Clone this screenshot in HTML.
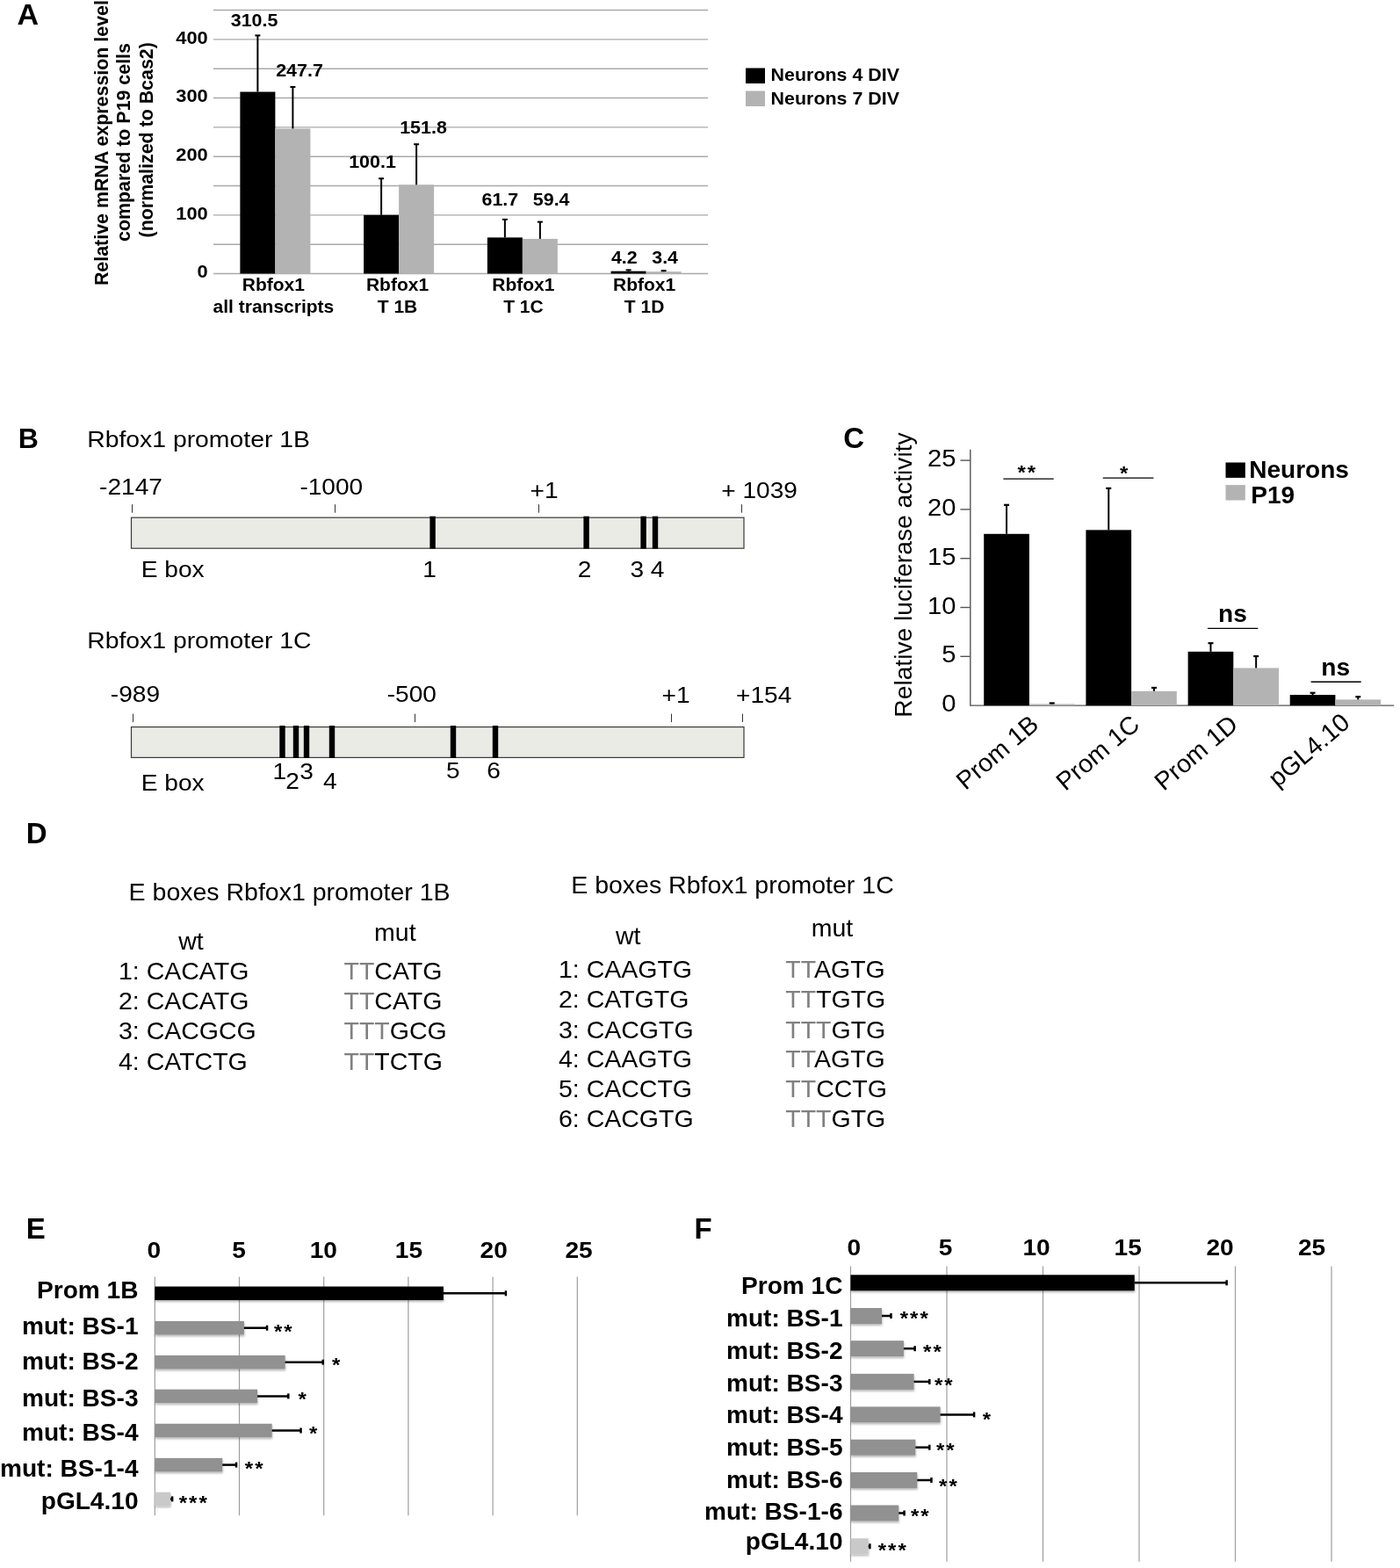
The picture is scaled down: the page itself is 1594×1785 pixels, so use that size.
<!DOCTYPE html>
<html><head><meta charset="utf-8"><title>Figure</title>
<style>
html,body{margin:0;padding:0;background:#fff;width:1594px;height:1785px;overflow:hidden}
svg{display:block}
text{font-family:"Liberation Sans", Arial, Helvetica, sans-serif}
</style></head><body>
<svg width="1594" height="1785" viewBox="0 0 1594 1785">
<defs><filter id="sh" x="-5%" y="-30%" width="115%" height="190%"><feDropShadow dx="0.5" dy="2" stdDeviation="1.3" flood-color="#000" flood-opacity="0.28"/></filter></defs>
<rect width="1594" height="1785" fill="#fff"/>
<text transform="translate(19.4,28)" font-size="34" font-weight="bold" text-anchor="start" fill="#000">A</text>
<line x1="243" y1="311.5" x2="806" y2="311.5" stroke="#a9a9a9" stroke-width="1.4"/>
<line x1="243" y1="278.18" x2="806" y2="278.18" stroke="#a9a9a9" stroke-width="1.4"/>
<line x1="243" y1="244.85" x2="806" y2="244.85" stroke="#a9a9a9" stroke-width="1.4"/>
<line x1="243" y1="211.53" x2="806" y2="211.53" stroke="#a9a9a9" stroke-width="1.4"/>
<line x1="243" y1="178.2" x2="806" y2="178.2" stroke="#a9a9a9" stroke-width="1.4"/>
<line x1="243" y1="144.88" x2="806" y2="144.88" stroke="#a9a9a9" stroke-width="1.4"/>
<line x1="243" y1="111.55" x2="806" y2="111.55" stroke="#a9a9a9" stroke-width="1.4"/>
<line x1="243" y1="78.22" x2="806" y2="78.22" stroke="#a9a9a9" stroke-width="1.4"/>
<line x1="243" y1="44.9" x2="806" y2="44.9" stroke="#a9a9a9" stroke-width="1.4"/>
<line x1="243" y1="11.57" x2="806" y2="11.57" stroke="#a9a9a9" stroke-width="1.4"/>
<text transform="translate(236.7,316.4) scale(1.04,1)" font-size="21" font-weight="bold" text-anchor="end" fill="#000">0</text>
<text transform="translate(236.7,249.75) scale(1.04,1)" font-size="21" font-weight="bold" text-anchor="end" fill="#000">100</text>
<text transform="translate(236.7,183.1) scale(1.04,1)" font-size="21" font-weight="bold" text-anchor="end" fill="#000">200</text>
<text transform="translate(236.7,116.45) scale(1.04,1)" font-size="21" font-weight="bold" text-anchor="end" fill="#000">300</text>
<text transform="translate(236.7,49.8) scale(1.04,1)" font-size="21" font-weight="bold" text-anchor="end" fill="#000">400</text>
<text transform="translate(122.7,162.6) rotate(-90)" font-size="21.4" font-weight="bold" text-anchor="middle">Relative mRNA expression level</text>
<text transform="translate(148.3,162) rotate(-90)" font-size="21.4" font-weight="bold" text-anchor="middle">compared to P19 cells</text>
<text transform="translate(174,159.3) rotate(-90)" font-size="21.4" font-weight="bold" text-anchor="middle">(normalized to Bcas2)</text>
<rect x="273.38" y="104.55" width="40" height="206.95" fill="#000"/>
<rect x="313.38" y="146.41" width="40" height="165.09" fill="#b3b3b3"/>
<line x1="293.38" y1="39.9" x2="293.38" y2="104.55" stroke="#000" stroke-width="2"/>
<line x1="290.38" y1="40.4" x2="296.38" y2="40.4" stroke="#000" stroke-width="2"/>
<line x1="333.38" y1="98.49" x2="333.38" y2="146.41" stroke="#000" stroke-width="2"/>
<line x1="330.38" y1="98.99" x2="336.38" y2="98.99" stroke="#000" stroke-width="2"/>
<rect x="414.12" y="244.78" width="40" height="66.72" fill="#000"/>
<rect x="454.12" y="210.33" width="40" height="101.17" fill="#b3b3b3"/>
<line x1="434.12" y1="202.73" x2="434.12" y2="244.78" stroke="#000" stroke-width="2"/>
<line x1="431.12" y1="203.23" x2="437.12" y2="203.23" stroke="#000" stroke-width="2"/>
<line x1="474.12" y1="163.74" x2="474.12" y2="210.33" stroke="#000" stroke-width="2"/>
<line x1="471.12" y1="164.24" x2="477.12" y2="164.24" stroke="#000" stroke-width="2"/>
<rect x="554.88" y="270.38" width="40" height="41.12" fill="#000"/>
<rect x="594.88" y="271.91" width="40" height="39.59" fill="#b3b3b3"/>
<line x1="574.88" y1="249.32" x2="574.88" y2="270.38" stroke="#000" stroke-width="2"/>
<line x1="571.88" y1="249.82" x2="577.88" y2="249.82" stroke="#000" stroke-width="2"/>
<line x1="614.88" y1="252.11" x2="614.88" y2="271.91" stroke="#000" stroke-width="2"/>
<line x1="611.88" y1="252.61" x2="617.88" y2="252.61" stroke="#000" stroke-width="2"/>
<rect x="695.62" y="308.7" width="40" height="2.8" fill="#000"/>
<rect x="735.62" y="309.23" width="40" height="2.27" fill="#b3b3b3"/>
<line x1="715.62" y1="306.9" x2="715.62" y2="308.7" stroke="#000" stroke-width="2"/>
<line x1="712.62" y1="307.4" x2="718.62" y2="307.4" stroke="#000" stroke-width="2"/>
<line x1="755.62" y1="307.7" x2="755.62" y2="309.23" stroke="#000" stroke-width="2"/>
<line x1="752.62" y1="308.2" x2="758.62" y2="308.2" stroke="#000" stroke-width="2"/>
<text transform="translate(289.6,29.7) scale(1.02,1)" font-size="21" font-weight="bold" text-anchor="middle" fill="#000">310.5</text>
<text transform="translate(341,86.6) scale(1.02,1)" font-size="21" font-weight="bold" text-anchor="middle" fill="#000">247.7</text>
<text transform="translate(424,190.6) scale(1.02,1)" font-size="21" font-weight="bold" text-anchor="middle" fill="#000">100.1</text>
<text transform="translate(482,151.9) scale(1.02,1)" font-size="21" font-weight="bold" text-anchor="middle" fill="#000">151.8</text>
<text transform="translate(569.4,233.8) scale(1.02,1)" font-size="21" font-weight="bold" text-anchor="middle" fill="#000">61.7</text>
<text transform="translate(627.7,233.8) scale(1.02,1)" font-size="21" font-weight="bold" text-anchor="middle" fill="#000">59.4</text>
<text transform="translate(710.8,299.8) scale(1.02,1)" font-size="21" font-weight="bold" text-anchor="middle" fill="#000">4.2</text>
<text transform="translate(757.1,299.8) scale(1.02,1)" font-size="21" font-weight="bold" text-anchor="middle" fill="#000">3.4</text>
<text transform="translate(311.4,331)" font-size="21" font-weight="bold" text-anchor="middle" fill="#000">Rbfox1</text>
<text transform="translate(311.4,356.4)" font-size="21" font-weight="bold" text-anchor="middle" fill="#000">all transcripts</text>
<text transform="translate(452.5,331)" font-size="21" font-weight="bold" text-anchor="middle" fill="#000">Rbfox1</text>
<text transform="translate(452.5,356.4)" font-size="21" font-weight="bold" text-anchor="middle" fill="#000">T 1B</text>
<text transform="translate(595.9,331)" font-size="21" font-weight="bold" text-anchor="middle" fill="#000">Rbfox1</text>
<text transform="translate(595.9,356.4)" font-size="21" font-weight="bold" text-anchor="middle" fill="#000">T 1C</text>
<text transform="translate(733.6,331)" font-size="21" font-weight="bold" text-anchor="middle" fill="#000">Rbfox1</text>
<text transform="translate(733.6,356.4)" font-size="21" font-weight="bold" text-anchor="middle" fill="#000">T 1D</text>
<rect x="849" y="77.5" width="22" height="17.5" fill="#000"/>
<rect x="849" y="103.5" width="22" height="17.5" fill="#b3b3b3"/>
<text transform="translate(877.6,92.3) scale(1.02,1)" font-size="21" font-weight="bold" text-anchor="start" fill="#000">Neurons 4 DIV</text>
<text transform="translate(877.6,118.6) scale(1.02,1)" font-size="21" font-weight="bold" text-anchor="start" fill="#000">Neurons 7 DIV</text>
<text transform="translate(20.8,509.6)" font-size="32" font-weight="bold" text-anchor="start" fill="#000">B</text>
<text transform="translate(99.2,509.1) scale(1.07,1)" font-size="26.5" text-anchor="start" fill="#000">Rbfox1 promoter 1B</text>
<line x1="150.5" y1="574.2" x2="150.5" y2="583.7" stroke="#333" stroke-width="1"/>
<text transform="translate(149,563.4) scale(1.06,1)" font-size="26.5" text-anchor="middle" fill="#000">-2147</text>
<line x1="381.5" y1="574.2" x2="381.5" y2="583.7" stroke="#333" stroke-width="1"/>
<text transform="translate(377.3,563.4) scale(1.06,1)" font-size="26.5" text-anchor="middle" fill="#000">-1000</text>
<line x1="613.5" y1="574.2" x2="613.5" y2="583.7" stroke="#333" stroke-width="1"/>
<text transform="translate(619.6,566.7) scale(1.06,1)" font-size="26.5" text-anchor="middle" fill="#000">+1</text>
<line x1="844.5" y1="574.2" x2="844.5" y2="583.7" stroke="#333" stroke-width="1"/>
<text transform="translate(864.6,566.7) scale(1.06,1)" font-size="26.5" text-anchor="middle" fill="#000">+ 1039</text>
<rect x="149.5" y="589.2" width="697.5" height="35" fill="#ebebe6" stroke="#3a3a3a" stroke-width="1.2"/>
<rect x="489.4" y="587.7" width="6.4" height="37" fill="#000"/>
<rect x="664.4" y="587.7" width="6.4" height="37" fill="#000"/>
<rect x="729.4" y="587.7" width="6.4" height="37" fill="#000"/>
<rect x="742.8" y="587.7" width="6.4" height="37" fill="#000"/>
<text transform="translate(489,657) scale(1.06,1)" font-size="26.5" text-anchor="middle" fill="#000">1</text>
<text transform="translate(665.6,657) scale(1.06,1)" font-size="26.5" text-anchor="middle" fill="#000">2</text>
<text transform="translate(725.2,657) scale(1.06,1)" font-size="26.5" text-anchor="middle" fill="#000">3</text>
<text transform="translate(748.6,657) scale(1.06,1)" font-size="26.5" text-anchor="middle" fill="#000">4</text>
<text transform="translate(160.8,656.7) scale(1.06,1)" font-size="26.5" text-anchor="start" fill="#000">E box</text>
<text transform="translate(99.2,738.1) scale(1.07,1)" font-size="26.5" text-anchor="start" fill="#000">Rbfox1 promoter 1C</text>
<line x1="151.5" y1="812.6" x2="151.5" y2="822.1" stroke="#333" stroke-width="1"/>
<text transform="translate(153.9,799) scale(1.06,1)" font-size="26.5" text-anchor="middle" fill="#000">-989</text>
<line x1="472.5" y1="812.6" x2="472.5" y2="822.1" stroke="#333" stroke-width="1"/>
<text transform="translate(468.8,799) scale(1.06,1)" font-size="26.5" text-anchor="middle" fill="#000">-500</text>
<line x1="764.5" y1="812.6" x2="764.5" y2="822.1" stroke="#333" stroke-width="1"/>
<text transform="translate(769.5,800) scale(1.06,1)" font-size="26.5" text-anchor="middle" fill="#000">+1</text>
<line x1="845.5" y1="812.6" x2="845.5" y2="822.1" stroke="#333" stroke-width="1"/>
<text transform="translate(869.7,800) scale(1.06,1)" font-size="26.5" text-anchor="middle" fill="#000">+154</text>
<rect x="149.5" y="827.6" width="697.5" height="34.8" fill="#ebebe6" stroke="#3a3a3a" stroke-width="1.2"/>
<rect x="318.3" y="826.1" width="6.4" height="36.8" fill="#000"/>
<rect x="333.8" y="826.1" width="6.4" height="36.8" fill="#000"/>
<rect x="345.8" y="826.1" width="6.4" height="36.8" fill="#000"/>
<rect x="374.8" y="826.1" width="6.4" height="36.8" fill="#000"/>
<rect x="512.8" y="826.1" width="6.4" height="36.8" fill="#000"/>
<rect x="560.8" y="826.1" width="6.4" height="36.8" fill="#000"/>
<text transform="translate(318.3,886.5) scale(1.06,1)" font-size="26.5" text-anchor="middle" fill="#000">1</text>
<text transform="translate(333,898) scale(1.06,1)" font-size="26.5" text-anchor="middle" fill="#000">2</text>
<text transform="translate(349,886.5) scale(1.06,1)" font-size="26.5" text-anchor="middle" fill="#000">3</text>
<text transform="translate(375.8,898) scale(1.06,1)" font-size="26.5" text-anchor="middle" fill="#000">4</text>
<text transform="translate(515.9,886.4) scale(1.06,1)" font-size="26.5" text-anchor="middle" fill="#000">5</text>
<text transform="translate(562,886.4) scale(1.06,1)" font-size="26.5" text-anchor="middle" fill="#000">6</text>
<text transform="translate(160.8,899.8) scale(1.06,1)" font-size="26.5" text-anchor="start" fill="#000">E box</text>
<text transform="translate(960.2,509.5)" font-size="33" font-weight="bold" text-anchor="start" fill="#000">C</text>
<line x1="1104.8" y1="511.8" x2="1104.8" y2="803.6" stroke="#555" stroke-width="1.4"/>
<line x1="1104.3" y1="803.1" x2="1587.2" y2="803.1" stroke="#555" stroke-width="1.4"/>
<text transform="translate(1088.5,810.1) scale(1.04,1)" font-size="28" text-anchor="end" fill="#000">0</text>
<line x1="1093.4" y1="747.3" x2="1104.8" y2="747.3" stroke="#555" stroke-width="1.4"/>
<text transform="translate(1088.5,754.3) scale(1.04,1)" font-size="28" text-anchor="end" fill="#000">5</text>
<line x1="1093.4" y1="691.5" x2="1104.8" y2="691.5" stroke="#555" stroke-width="1.4"/>
<text transform="translate(1088.5,698.5) scale(1.04,1)" font-size="28" text-anchor="end" fill="#000">10</text>
<line x1="1093.4" y1="635.7" x2="1104.8" y2="635.7" stroke="#555" stroke-width="1.4"/>
<text transform="translate(1088.5,642.7) scale(1.04,1)" font-size="28" text-anchor="end" fill="#000">15</text>
<line x1="1093.4" y1="579.9" x2="1104.8" y2="579.9" stroke="#555" stroke-width="1.4"/>
<text transform="translate(1088.5,586.9) scale(1.04,1)" font-size="28" text-anchor="end" fill="#000">20</text>
<line x1="1093.4" y1="524.1" x2="1104.8" y2="524.1" stroke="#555" stroke-width="1.4"/>
<text transform="translate(1088.5,531.1) scale(1.04,1)" font-size="28" text-anchor="end" fill="#000">25</text>
<text transform="translate(1038,654.5) rotate(-90)" font-size="28.2" text-anchor="middle">Relative luciferase activity</text>
<rect x="1120.2" y="607.8" width="51.7" height="195.3" fill="#000"/>
<rect x="1171.9" y="801.43" width="51.7" height="1.67" fill="#b3b3b3"/>
<line x1="1146.05" y1="574.32" x2="1146.05" y2="607.8" stroke="#000" stroke-width="2"/>
<line x1="1143.05" y1="574.82" x2="1149.05" y2="574.82" stroke="#000" stroke-width="2.2"/>
<line x1="1197.75" y1="799.98" x2="1197.75" y2="801.43" stroke="#000" stroke-width="2"/>
<line x1="1194.75" y1="800.48" x2="1200.75" y2="800.48" stroke="#000" stroke-width="2.2"/>
<rect x="1236.4" y="603.34" width="51.7" height="199.76" fill="#000"/>
<rect x="1288.1" y="786.81" width="51.7" height="16.29" fill="#b3b3b3"/>
<line x1="1262.25" y1="555.35" x2="1262.25" y2="603.34" stroke="#000" stroke-width="2"/>
<line x1="1259.25" y1="555.85" x2="1265.25" y2="555.85" stroke="#000" stroke-width="2.2"/>
<line x1="1313.95" y1="782.45" x2="1313.95" y2="786.81" stroke="#000" stroke-width="2"/>
<line x1="1310.95" y1="782.95" x2="1316.95" y2="782.95" stroke="#000" stroke-width="2.2"/>
<rect x="1352.6" y="741.83" width="51.7" height="61.27" fill="#000"/>
<rect x="1404.3" y="760.47" width="51.7" height="42.63" fill="#b3b3b3"/>
<line x1="1378.45" y1="731.68" x2="1378.45" y2="741.83" stroke="#000" stroke-width="2"/>
<line x1="1375.45" y1="732.18" x2="1381.45" y2="732.18" stroke="#000" stroke-width="2.2"/>
<line x1="1430.15" y1="746.52" x2="1430.15" y2="760.47" stroke="#000" stroke-width="2"/>
<line x1="1427.15" y1="747.02" x2="1433.15" y2="747.02" stroke="#000" stroke-width="2.2"/>
<rect x="1468.7" y="791.05" width="51.7" height="12.05" fill="#000"/>
<rect x="1520.4" y="796.4" width="51.7" height="6.7" fill="#b3b3b3"/>
<line x1="1494.55" y1="788.26" x2="1494.55" y2="791.05" stroke="#000" stroke-width="2"/>
<line x1="1491.55" y1="788.76" x2="1497.55" y2="788.76" stroke="#000" stroke-width="2.2"/>
<line x1="1546.25" y1="792.72" x2="1546.25" y2="796.4" stroke="#000" stroke-width="2"/>
<line x1="1543.25" y1="793.22" x2="1549.25" y2="793.22" stroke="#000" stroke-width="2.2"/>
<line x1="1142.4" y1="545.1" x2="1199.7" y2="545.1" stroke="#000" stroke-width="1.4"/>
<line x1="1255.7" y1="544.1" x2="1313.4" y2="544.1" stroke="#000" stroke-width="1.4"/>
<line x1="1374.9" y1="715.4" x2="1432.3" y2="715.4" stroke="#000" stroke-width="1.4"/>
<line x1="1492.6" y1="776.2" x2="1549.7" y2="776.2" stroke="#000" stroke-width="1.4"/>
<text transform="translate(1158.4,545.37) scale(1,0.93)" font-size="24" font-weight="bold" text-anchor="start" fill="#000">*</text>
<text transform="translate(1169.8,545.37) scale(1,0.93)" font-size="24" font-weight="bold" text-anchor="start" fill="#000">*</text>
<text transform="translate(1274.9,546.27) scale(1,0.93)" font-size="24" font-weight="bold" text-anchor="start" fill="#000">*</text>
<text transform="translate(1403.4,708.4) scale(1.04,1)" font-size="27" font-weight="bold" text-anchor="middle" fill="#000">ns</text>
<text transform="translate(1520.7,769.1) scale(1.04,1)" font-size="27" font-weight="bold" text-anchor="middle" fill="#000">ns</text>
<rect x="1395.5" y="526.5" width="22.3" height="17.4" fill="#000"/>
<rect x="1395.5" y="552.1" width="22.3" height="17.4" fill="#b3b3b3"/>
<text transform="translate(1422.3,543.9)" font-size="28" font-weight="bold" text-anchor="start" fill="#000">Neurons</text>
<text transform="translate(1424.2,573.2)" font-size="28" font-weight="bold" text-anchor="start" fill="#000">P19</text>
<text transform="translate(1184.4,827.4) rotate(-40.5)" font-size="28.8" text-anchor="end">Prom 1B</text>
<text transform="translate(1299.4,827.4) rotate(-40.5)" font-size="28.8" text-anchor="end">Prom 1C</text>
<text transform="translate(1411.4,827.4) rotate(-40.5)" font-size="28.8" text-anchor="end">Prom 1D</text>
<text transform="translate(1538.6,825.4) rotate(-40.5)" font-size="28.8" text-anchor="end">pGL4.10</text>
<text transform="translate(29.8,959.7)" font-size="33" font-weight="bold" text-anchor="start" fill="#000">D</text>
<text transform="translate(146.6,1024.7)" font-size="28.5" text-anchor="start" fill="#000">E boxes Rbfox1 promoter 1B</text>
<text transform="translate(217.5,1080.6)" font-size="28.5" text-anchor="middle" fill="#000">wt</text>
<text transform="translate(449.8,1070.9)" font-size="28.5" text-anchor="middle" fill="#000">mut</text>
<text transform="translate(135,1115.1)" font-size="28.5" text-anchor="start" fill="#000">1: CACATG</text>
<text x="391.5" y="1115.1" font-size="28.5"><tspan fill="#808080">TT</tspan>CATG</text>
<text transform="translate(135,1149.3)" font-size="28.5" text-anchor="start" fill="#000">2: CACATG</text>
<text x="391.5" y="1149.3" font-size="28.5"><tspan fill="#808080">TT</tspan>CATG</text>
<text transform="translate(135,1182.7)" font-size="28.5" text-anchor="start" fill="#000">3: CACGCG</text>
<text x="391.5" y="1182.7" font-size="28.5"><tspan fill="#808080">TTT</tspan>GCG</text>
<text transform="translate(135,1217.5)" font-size="28.5" text-anchor="start" fill="#000">4: CATCTG</text>
<text x="391.5" y="1217.5" font-size="28.5"><tspan fill="#808080">TT</tspan>TCTG</text>
<text transform="translate(650.2,1016.9)" font-size="28.5" text-anchor="start" fill="#000">E boxes Rbfox1 promoter 1C</text>
<text transform="translate(715.2,1075.4)" font-size="28.5" text-anchor="middle" fill="#000">wt</text>
<text transform="translate(947.4,1065.6)" font-size="28.5" text-anchor="middle" fill="#000">mut</text>
<text transform="translate(636,1113.1)" font-size="28.5" text-anchor="start" fill="#000">1: CAAGTG</text>
<text x="894.3" y="1113.1" font-size="28.5"><tspan fill="#808080">TT</tspan>AGTG</text>
<text transform="translate(636,1147.3)" font-size="28.5" text-anchor="start" fill="#000">2: CATGTG</text>
<text x="894.3" y="1147.3" font-size="28.5"><tspan fill="#808080">TT</tspan>TGTG</text>
<text transform="translate(636,1181.6)" font-size="28.5" text-anchor="start" fill="#000">3: CACGTG</text>
<text x="894.3" y="1181.6" font-size="28.5"><tspan fill="#808080">TTT</tspan>GTG</text>
<text transform="translate(636,1215.3)" font-size="28.5" text-anchor="start" fill="#000">4: CAAGTG</text>
<text x="894.3" y="1215.3" font-size="28.5"><tspan fill="#808080">TT</tspan>AGTG</text>
<text transform="translate(636,1249.3)" font-size="28.5" text-anchor="start" fill="#000">5: CACCTG</text>
<text x="894.3" y="1249.3" font-size="28.5"><tspan fill="#808080">TT</tspan>CCTG</text>
<text transform="translate(636,1283)" font-size="28.5" text-anchor="start" fill="#000">6: CACGTG</text>
<text x="894.3" y="1283" font-size="28.5"><tspan fill="#808080">TTT</tspan>GTG</text>
<text transform="translate(29.8,1409.6)" font-size="33" font-weight="bold" text-anchor="start" fill="#000">E</text>
<line x1="176.3" y1="1453.6" x2="176.3" y2="1725.2" stroke="#9e9e9e" stroke-width="1.2"/>
<text transform="translate(175.4,1431.6) scale(1.08,1)" font-size="26" font-weight="bold" text-anchor="middle" fill="#000">0</text>
<line x1="272.5" y1="1453.6" x2="272.5" y2="1725.2" stroke="#9e9e9e" stroke-width="1.2"/>
<text transform="translate(272.1,1431.6) scale(1.08,1)" font-size="26" font-weight="bold" text-anchor="middle" fill="#000">5</text>
<line x1="368.7" y1="1453.6" x2="368.7" y2="1725.2" stroke="#9e9e9e" stroke-width="1.2"/>
<text transform="translate(368.3,1431.6) scale(1.08,1)" font-size="26" font-weight="bold" text-anchor="middle" fill="#000">10</text>
<line x1="464.9" y1="1453.6" x2="464.9" y2="1725.2" stroke="#9e9e9e" stroke-width="1.2"/>
<text transform="translate(465.4,1431.6) scale(1.08,1)" font-size="26" font-weight="bold" text-anchor="middle" fill="#000">15</text>
<line x1="561.1" y1="1453.6" x2="561.1" y2="1725.2" stroke="#9e9e9e" stroke-width="1.2"/>
<text transform="translate(562.2,1431.6) scale(1.08,1)" font-size="26" font-weight="bold" text-anchor="middle" fill="#000">20</text>
<line x1="657.3" y1="1453.6" x2="657.3" y2="1725.2" stroke="#9e9e9e" stroke-width="1.2"/>
<text transform="translate(659,1431.6) scale(1.08,1)" font-size="26" font-weight="bold" text-anchor="middle" fill="#000">25</text>
<rect x="176.3" y="1464.55" width="328.62" height="15.5" fill="#000" filter="url(#sh)"/>
<line x1="504.92" y1="1472.3" x2="575.91" y2="1472.3" stroke="#000" stroke-width="2.5"/>
<line x1="575.91" y1="1469.3" x2="575.91" y2="1475.3" stroke="#000" stroke-width="2.5"/>
<rect x="176.3" y="1503.95" width="101.59" height="15.5" fill="#919191" filter="url(#sh)"/>
<line x1="277.89" y1="1511.7" x2="304.05" y2="1511.7" stroke="#000" stroke-width="2.5"/>
<line x1="304.05" y1="1508.7" x2="304.05" y2="1514.7" stroke="#000" stroke-width="2.5"/>
<text transform="translate(311.9,1522.77) scale(1,0.93)" font-size="24" font-weight="bold" text-anchor="start" fill="#000">*</text>
<text transform="translate(323.3,1522.77) scale(1,0.93)" font-size="24" font-weight="bold" text-anchor="start" fill="#000">*</text>
<rect x="176.3" y="1542.95" width="148.34" height="15.5" fill="#919191" filter="url(#sh)"/>
<line x1="324.64" y1="1550.7" x2="367.74" y2="1550.7" stroke="#000" stroke-width="2.5"/>
<line x1="367.74" y1="1547.7" x2="367.74" y2="1553.7" stroke="#000" stroke-width="2.5"/>
<text transform="translate(377.9,1561.27) scale(1,0.93)" font-size="24" font-weight="bold" text-anchor="start" fill="#000">*</text>
<rect x="176.3" y="1581.65" width="116.79" height="15.5" fill="#919191" filter="url(#sh)"/>
<line x1="293.09" y1="1589.4" x2="328.3" y2="1589.4" stroke="#000" stroke-width="2.5"/>
<line x1="328.3" y1="1586.4" x2="328.3" y2="1592.4" stroke="#000" stroke-width="2.5"/>
<text transform="translate(339.6,1600.27) scale(1,0.93)" font-size="24" font-weight="bold" text-anchor="start" fill="#000">*</text>
<rect x="176.3" y="1620.75" width="133.33" height="15.5" fill="#919191" filter="url(#sh)"/>
<line x1="309.63" y1="1628.5" x2="342.53" y2="1628.5" stroke="#000" stroke-width="2.5"/>
<line x1="342.53" y1="1625.5" x2="342.53" y2="1631.5" stroke="#000" stroke-width="2.5"/>
<text transform="translate(352,1639.47) scale(1,0.93)" font-size="24" font-weight="bold" text-anchor="start" fill="#000">*</text>
<rect x="176.3" y="1659.85" width="76.96" height="15.5" fill="#919191" filter="url(#sh)"/>
<line x1="253.26" y1="1667.6" x2="269.04" y2="1667.6" stroke="#000" stroke-width="2.5"/>
<line x1="269.04" y1="1664.6" x2="269.04" y2="1670.6" stroke="#000" stroke-width="2.5"/>
<text transform="translate(278.8,1678.57) scale(1,0.93)" font-size="24" font-weight="bold" text-anchor="start" fill="#000">*</text>
<text transform="translate(290.2,1678.57) scale(1,0.93)" font-size="24" font-weight="bold" text-anchor="start" fill="#000">*</text>
<rect x="176.3" y="1698.65" width="17.7" height="15.5" fill="#c9c9c9" filter="url(#sh)"/>
<line x1="194" y1="1706.4" x2="196.12" y2="1706.4" stroke="#000" stroke-width="2.5"/>
<line x1="196.12" y1="1703.4" x2="196.12" y2="1709.4" stroke="#000" stroke-width="2.5"/>
<text transform="translate(203.7,1718.27) scale(1,0.93)" font-size="24" font-weight="bold" text-anchor="start" fill="#000">*</text>
<text transform="translate(215.1,1718.27) scale(1,0.93)" font-size="24" font-weight="bold" text-anchor="start" fill="#000">*</text>
<text transform="translate(226.5,1718.27) scale(1,0.93)" font-size="24" font-weight="bold" text-anchor="start" fill="#000">*</text>
<text transform="translate(157.5,1478.4) scale(1.04,1)" font-size="27" font-weight="bold" text-anchor="end" fill="#000">Prom 1B</text>
<text transform="translate(157.5,1519) scale(1.04,1)" font-size="27" font-weight="bold" text-anchor="end" fill="#000">mut: BS-1</text>
<text transform="translate(157.5,1559.1) scale(1.04,1)" font-size="27" font-weight="bold" text-anchor="end" fill="#000">mut: BS-2</text>
<text transform="translate(157.5,1600.7) scale(1.04,1)" font-size="27" font-weight="bold" text-anchor="end" fill="#000">mut: BS-3</text>
<text transform="translate(157.5,1640) scale(1.04,1)" font-size="27" font-weight="bold" text-anchor="end" fill="#000">mut: BS-4</text>
<text transform="translate(157.5,1680.6) scale(1.04,1)" font-size="27" font-weight="bold" text-anchor="end" fill="#000">mut: BS-1-4</text>
<text transform="translate(157.5,1718.1) scale(1.04,1)" font-size="27" font-weight="bold" text-anchor="end" fill="#000">pGL4.10</text>
<text transform="translate(790.5,1409.7)" font-size="33" font-weight="bold" text-anchor="start" fill="#000">F</text>
<line x1="968.5" y1="1441.5" x2="968.5" y2="1777.8" stroke="#9e9e9e" stroke-width="1.2"/>
<text transform="translate(972.2,1429.2) scale(1.08,1)" font-size="26" font-weight="bold" text-anchor="middle" fill="#000">0</text>
<line x1="1078" y1="1441.5" x2="1078" y2="1777.8" stroke="#9e9e9e" stroke-width="1.2"/>
<text transform="translate(1076.6,1429.2) scale(1.08,1)" font-size="26" font-weight="bold" text-anchor="middle" fill="#000">5</text>
<line x1="1187.5" y1="1441.5" x2="1187.5" y2="1777.8" stroke="#9e9e9e" stroke-width="1.2"/>
<text transform="translate(1180.1,1429.2) scale(1.08,1)" font-size="26" font-weight="bold" text-anchor="middle" fill="#000">10</text>
<line x1="1297" y1="1441.5" x2="1297" y2="1777.8" stroke="#9e9e9e" stroke-width="1.2"/>
<text transform="translate(1284.2,1429.2) scale(1.08,1)" font-size="26" font-weight="bold" text-anchor="middle" fill="#000">15</text>
<line x1="1406.5" y1="1441.5" x2="1406.5" y2="1777.8" stroke="#9e9e9e" stroke-width="1.2"/>
<text transform="translate(1389,1429.2) scale(1.08,1)" font-size="26" font-weight="bold" text-anchor="middle" fill="#000">20</text>
<line x1="1516" y1="1441.5" x2="1516" y2="1777.8" stroke="#9e9e9e" stroke-width="1.2"/>
<text transform="translate(1493.5,1429.2) scale(1.08,1)" font-size="26" font-weight="bold" text-anchor="middle" fill="#000">25</text>
<rect x="968.5" y="1451.3" width="323.24" height="18" fill="#000" filter="url(#sh)"/>
<line x1="1291.74" y1="1460.3" x2="1396.64" y2="1460.3" stroke="#000" stroke-width="2.5"/>
<line x1="1396.64" y1="1457.3" x2="1396.64" y2="1463.3" stroke="#000" stroke-width="2.5"/>
<rect x="968.5" y="1489" width="35.48" height="18" fill="#919191" filter="url(#sh)"/>
<line x1="1003.98" y1="1498" x2="1014.49" y2="1498" stroke="#000" stroke-width="2.5"/>
<line x1="1014.49" y1="1495" x2="1014.49" y2="1501" stroke="#000" stroke-width="2.5"/>
<text transform="translate(1024.7,1507.57) scale(1,0.93)" font-size="24" font-weight="bold" text-anchor="start" fill="#000">*</text>
<text transform="translate(1036.1,1507.57) scale(1,0.93)" font-size="24" font-weight="bold" text-anchor="start" fill="#000">*</text>
<text transform="translate(1047.5,1507.57) scale(1,0.93)" font-size="24" font-weight="bold" text-anchor="start" fill="#000">*</text>
<rect x="968.5" y="1526.2" width="60.44" height="18" fill="#919191" filter="url(#sh)"/>
<line x1="1028.94" y1="1535.2" x2="1041.65" y2="1535.2" stroke="#000" stroke-width="2.5"/>
<line x1="1041.65" y1="1532.2" x2="1041.65" y2="1538.2" stroke="#000" stroke-width="2.5"/>
<text transform="translate(1051.1,1545.97) scale(1,0.93)" font-size="24" font-weight="bold" text-anchor="start" fill="#000">*</text>
<text transform="translate(1062.5,1545.97) scale(1,0.93)" font-size="24" font-weight="bold" text-anchor="start" fill="#000">*</text>
<rect x="968.5" y="1563.9" width="72.05" height="18" fill="#919191" filter="url(#sh)"/>
<line x1="1040.55" y1="1572.9" x2="1058.29" y2="1572.9" stroke="#000" stroke-width="2.5"/>
<line x1="1058.29" y1="1569.9" x2="1058.29" y2="1575.9" stroke="#000" stroke-width="2.5"/>
<text transform="translate(1063.9,1584.27) scale(1,0.93)" font-size="24" font-weight="bold" text-anchor="start" fill="#000">*</text>
<text transform="translate(1075.3,1584.27) scale(1,0.93)" font-size="24" font-weight="bold" text-anchor="start" fill="#000">*</text>
<rect x="968.5" y="1601.4" width="102.05" height="18" fill="#919191" filter="url(#sh)"/>
<line x1="1070.55" y1="1610.4" x2="1109.1" y2="1610.4" stroke="#000" stroke-width="2.5"/>
<line x1="1109.1" y1="1607.4" x2="1109.1" y2="1613.4" stroke="#000" stroke-width="2.5"/>
<text transform="translate(1118.7,1622.77) scale(1,0.93)" font-size="24" font-weight="bold" text-anchor="start" fill="#000">*</text>
<rect x="968.5" y="1638.7" width="73.8" height="18" fill="#919191" filter="url(#sh)"/>
<line x1="1042.3" y1="1647.7" x2="1058.29" y2="1647.7" stroke="#000" stroke-width="2.5"/>
<line x1="1058.29" y1="1644.7" x2="1058.29" y2="1650.7" stroke="#000" stroke-width="2.5"/>
<text transform="translate(1065.9,1658.47) scale(1,0.93)" font-size="24" font-weight="bold" text-anchor="start" fill="#000">*</text>
<text transform="translate(1077.3,1658.47) scale(1,0.93)" font-size="24" font-weight="bold" text-anchor="start" fill="#000">*</text>
<rect x="968.5" y="1676" width="75.77" height="18" fill="#919191" filter="url(#sh)"/>
<line x1="1044.27" y1="1685" x2="1060.48" y2="1685" stroke="#000" stroke-width="2.5"/>
<line x1="1060.48" y1="1682" x2="1060.48" y2="1688" stroke="#000" stroke-width="2.5"/>
<text transform="translate(1069,1698.87) scale(1,0.93)" font-size="24" font-weight="bold" text-anchor="start" fill="#000">*</text>
<text transform="translate(1080.4,1698.87) scale(1,0.93)" font-size="24" font-weight="bold" text-anchor="start" fill="#000">*</text>
<rect x="968.5" y="1713.5" width="54.75" height="18" fill="#919191" filter="url(#sh)"/>
<line x1="1023.25" y1="1722.5" x2="1029.6" y2="1722.5" stroke="#000" stroke-width="2.5"/>
<line x1="1029.6" y1="1719.5" x2="1029.6" y2="1725.5" stroke="#000" stroke-width="2.5"/>
<text transform="translate(1036.9,1733.27) scale(1,0.93)" font-size="24" font-weight="bold" text-anchor="start" fill="#000">*</text>
<text transform="translate(1048.3,1733.27) scale(1,0.93)" font-size="24" font-weight="bold" text-anchor="start" fill="#000">*</text>
<rect x="968.5" y="1751.3" width="20.15" height="18" fill="#c9c9c9" filter="url(#sh)"/>
<line x1="988.65" y1="1760.3" x2="990.4" y2="1760.3" stroke="#000" stroke-width="2.5"/>
<line x1="990.4" y1="1757.3" x2="990.4" y2="1763.3" stroke="#000" stroke-width="2.5"/>
<text transform="translate(999.7,1771.97) scale(1,0.93)" font-size="24" font-weight="bold" text-anchor="start" fill="#000">*</text>
<text transform="translate(1011.1,1771.97) scale(1,0.93)" font-size="24" font-weight="bold" text-anchor="start" fill="#000">*</text>
<text transform="translate(1022.5,1771.97) scale(1,0.93)" font-size="24" font-weight="bold" text-anchor="start" fill="#000">*</text>
<text transform="translate(959.5,1472.8) scale(1.04,1)" font-size="27" font-weight="bold" text-anchor="end" fill="#000">Prom 1C</text>
<text transform="translate(959.5,1510.1) scale(1.04,1)" font-size="27" font-weight="bold" text-anchor="end" fill="#000">mut: BS-1</text>
<text transform="translate(959.5,1546.6) scale(1.04,1)" font-size="27" font-weight="bold" text-anchor="end" fill="#000">mut: BS-2</text>
<text transform="translate(959.5,1583.7) scale(1.04,1)" font-size="27" font-weight="bold" text-anchor="end" fill="#000">mut: BS-3</text>
<text transform="translate(959.5,1620.2) scale(1.04,1)" font-size="27" font-weight="bold" text-anchor="end" fill="#000">mut: BS-4</text>
<text transform="translate(959.5,1657) scale(1.04,1)" font-size="27" font-weight="bold" text-anchor="end" fill="#000">mut: BS-5</text>
<text transform="translate(959.5,1693.5) scale(1.04,1)" font-size="27" font-weight="bold" text-anchor="end" fill="#000">mut: BS-6</text>
<text transform="translate(959.5,1730.2) scale(1.04,1)" font-size="27" font-weight="bold" text-anchor="end" fill="#000">mut: BS-1-6</text>
<text transform="translate(959.5,1763.8) scale(1.04,1)" font-size="27" font-weight="bold" text-anchor="end" fill="#000">pGL4.10</text>
</svg>
</body></html>
